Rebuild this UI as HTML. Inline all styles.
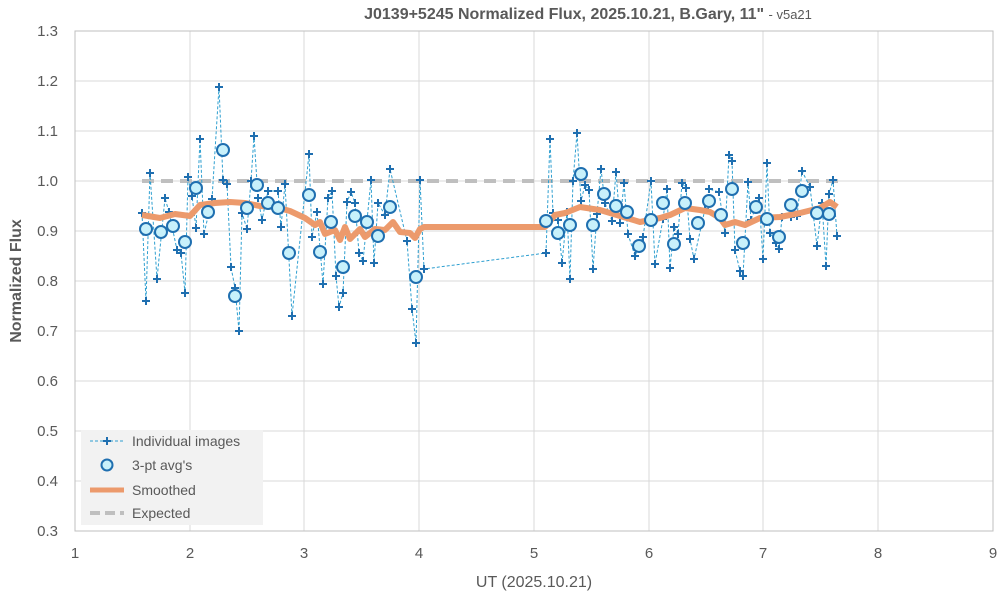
<!DOCTYPE html>
<html><head><meta charset="utf-8"><style>
body{margin:0;background:#fff;}
svg text{font-family:"Liberation Sans",sans-serif;}
</style></head><body>
<svg width="1003" height="599" viewBox="0 0 1003 599" xmlns="http://www.w3.org/2000/svg">
<rect width="1003" height="599" fill="#fff"/>
<g stroke="#d9d9d9" stroke-width="1">
<line x1="75" y1="81" x2="993" y2="81"/><line x1="75" y1="131" x2="993" y2="131"/><line x1="75" y1="181" x2="993" y2="181"/><line x1="75" y1="231" x2="993" y2="231"/><line x1="75" y1="281" x2="993" y2="281"/><line x1="75" y1="331" x2="993" y2="331"/><line x1="75" y1="381" x2="993" y2="381"/><line x1="75" y1="431" x2="993" y2="431"/><line x1="75" y1="481" x2="993" y2="481"/>
<line x1="190" y1="31" x2="190" y2="531"/><line x1="304" y1="31" x2="304" y2="531"/><line x1="419" y1="31" x2="419" y2="531"/><line x1="534" y1="31" x2="534" y2="531"/><line x1="649" y1="31" x2="649" y2="531"/><line x1="763" y1="31" x2="763" y2="531"/><line x1="878" y1="31" x2="878" y2="531"/>
</g>
<rect x="75" y="31" width="918" height="500" fill="none" stroke="#bfbfbf" stroke-width="1"/>
<g font-size="15" fill="#595959" text-anchor="end">
<text x="58" y="36">1.3</text><text x="58" y="86">1.2</text><text x="58" y="136">1.1</text><text x="58" y="186">1.0</text><text x="58" y="236">0.9</text><text x="58" y="286">0.8</text><text x="58" y="336">0.7</text><text x="58" y="386">0.6</text><text x="58" y="436">0.5</text><text x="58" y="486">0.4</text><text x="58" y="536">0.3</text>
</g>
<g font-size="15" fill="#595959" text-anchor="middle">
<text x="75" y="558">1</text><text x="190" y="558">2</text><text x="304" y="558">3</text><text x="419" y="558">4</text><text x="534" y="558">5</text><text x="649" y="558">6</text><text x="763" y="558">7</text><text x="878" y="558">8</text><text x="993" y="558">9</text>
</g>
<text x="534" y="587" font-size="16" fill="#595959" text-anchor="middle">UT (2025.10.21)</text>
<text x="21" y="281" font-size="16" font-weight="bold" fill="#595959" text-anchor="middle" transform="rotate(-90 21 281)">Normalized Flux</text>
<text x="588" y="19" font-size="16" font-weight="bold" fill="#595959" text-anchor="middle">J0139+5245 Normalized Flux, 2025.10.21, B.Gary, 11" <tspan font-size="13" font-weight="normal">- v5a21</tspan></text>
<line x1="142" y1="181" x2="838" y2="181" stroke="#bfbfbf" stroke-width="4" stroke-dasharray="12,7"/>
<polyline fill="none" stroke="#2e9fd0" stroke-width="1" stroke-dasharray="3,2" points="142,213 146,301 150,173 157,279 165,198 169,212 177,250 181,253 185,293 188,177 192,196 196,228 200,139 204,234 212,199 219,87 223,180 227,184 231,267 235,288 239,331 242,213 247,229 251,181 254,136 258,198 262,220 268,191 278,191 281,227 285,184 292,316 309,154 312,237 317,212 323,284 328,198 332,191 336,276 339,307 343,293 347,202 351,192 355,203 359,253 363,261 371,180 374,263 378,203 385,215 390,169 407,241 412,309 416,343 420,180 424,269 546,253 550,139 553,213 558,220 562,263 567,212 570,279 573,181 577,133 581,201 585,185 589,190 593,269 597,214 601,169 605,203 612,221 616,172 620,223 624,183 628,234 635,256 643,237 651,181 655,264 663,219 667,189 670,268 674,227 678,234 682,183 686,188 690,239 694,259 705,209 709,189 719,192 725,233 729,155 732,161 735,250 740,271 743,276 748,182 751,220 759,198 763,259 767,163 770,233 776,243 779,249 782,217 791,217 797,216 802,171 810,187 817,246 822,203 826,266 829,194 833,180 837,236"/>
<path fill="none" stroke="#1f6fb0" stroke-width="2" d="M138,213h8M142,209v8M142,301h8M146,297v8M146,173h8M150,169v8M153,279h8M157,275v8M161,198h8M165,194v8M165,212h8M169,208v8M173,250h8M177,246v8M177,253h8M181,249v8M181,293h8M185,289v8M184,177h8M188,173v8M188,196h8M192,192v8M192,228h8M196,224v8M196,139h8M200,135v8M200,234h8M204,230v8M208,199h8M212,195v8M215,87h8M219,83v8M219,180h8M223,176v8M223,184h8M227,180v8M227,267h8M231,263v8M231,288h8M235,284v8M235,331h8M239,327v8M238,213h8M242,209v8M243,229h8M247,225v8M247,181h8M251,177v8M250,136h8M254,132v8M254,198h8M258,194v8M258,220h8M262,216v8M264,191h8M268,187v8M274,191h8M278,187v8M277,227h8M281,223v8M281,184h8M285,180v8M288,316h8M292,312v8M305,154h8M309,150v8M308,237h8M312,233v8M313,212h8M317,208v8M319,284h8M323,280v8M324,198h8M328,194v8M328,191h8M332,187v8M332,276h8M336,272v8M335,307h8M339,303v8M339,293h8M343,289v8M343,202h8M347,198v8M347,192h8M351,188v8M351,203h8M355,199v8M355,253h8M359,249v8M359,261h8M363,257v8M367,180h8M371,176v8M370,263h8M374,259v8M374,203h8M378,199v8M381,215h8M385,211v8M386,169h8M390,165v8M403,241h8M407,237v8M408,309h8M412,305v8M412,343h8M416,339v8M416,180h8M420,176v8M420,269h8M424,265v8M542,253h8M546,249v8M546,139h8M550,135v8M549,213h8M553,209v8M554,220h8M558,216v8M558,263h8M562,259v8M563,212h8M567,208v8M566,279h8M570,275v8M569,181h8M573,177v8M573,133h8M577,129v8M577,201h8M581,197v8M581,185h8M585,181v8M585,190h8M589,186v8M589,269h8M593,265v8M593,214h8M597,210v8M597,169h8M601,165v8M601,203h8M605,199v8M608,221h8M612,217v8M612,172h8M616,168v8M616,223h8M620,219v8M620,183h8M624,179v8M624,234h8M628,230v8M631,256h8M635,252v8M639,237h8M643,233v8M647,181h8M651,177v8M651,264h8M655,260v8M659,219h8M663,215v8M663,189h8M667,185v8M666,268h8M670,264v8M670,227h8M674,223v8M674,234h8M678,230v8M678,183h8M682,179v8M682,188h8M686,184v8M686,239h8M690,235v8M690,259h8M694,255v8M701,209h8M705,205v8M705,189h8M709,185v8M715,192h8M719,188v8M721,233h8M725,229v8M725,155h8M729,151v8M728,161h8M732,157v8M731,250h8M735,246v8M736,271h8M740,267v8M739,276h8M743,272v8M744,182h8M748,178v8M747,220h8M751,216v8M755,198h8M759,194v8M759,259h8M763,255v8M763,163h8M767,159v8M766,233h8M770,229v8M772,243h8M776,239v8M775,249h8M779,245v8M778,217h8M782,213v8M787,217h8M791,213v8M793,216h8M797,212v8M798,171h8M802,167v8M806,187h8M810,183v8M813,246h8M817,242v8M818,203h8M822,199v8M822,266h8M826,262v8M825,194h8M829,190v8M829,180h8M833,176v8M833,236h8M837,232v8"/>
<polyline fill="none" stroke="#ec9a6c" stroke-width="6" stroke-linejoin="round" points="142,215 160,218 175,214 190,216 200,205 215,203 230,202 245,203 260,206 275,207 290,211 305,218 315,225 320,222 325,234 335,230 340,240 345,227 350,239 360,229 365,237 375,229 385,230 393,222 400,232 410,233 415,238 420,229 424,227 430,227 545,227 555,215 565,213 580,207 600,210 620,216 640,222 650,220 660,218 670,215 685,208 700,210 710,212 720,218 725,225 735,222 745,225 760,218 780,217 800,213 820,208 830,202 837,207"/>
<g fill="#c8f1fb" stroke="#1f6fb0" stroke-width="2">
<circle cx="146" cy="229" r="6"/><circle cx="161" cy="232" r="6"/><circle cx="173" cy="226" r="6"/><circle cx="185" cy="242" r="6"/><circle cx="196" cy="188" r="6"/><circle cx="208" cy="212" r="6"/><circle cx="223" cy="150" r="6"/><circle cx="235" cy="296" r="6"/><circle cx="247" cy="208" r="6"/><circle cx="257" cy="185" r="6"/><circle cx="268" cy="203" r="6"/><circle cx="278" cy="208" r="6"/><circle cx="289" cy="253" r="6"/><circle cx="309" cy="195" r="6"/><circle cx="320" cy="252" r="6"/><circle cx="331" cy="222" r="6"/><circle cx="343" cy="267" r="6"/><circle cx="355" cy="216" r="6"/><circle cx="367" cy="222" r="6"/><circle cx="378" cy="236" r="6"/><circle cx="390" cy="207" r="6"/><circle cx="416" cy="277" r="6"/>
<circle cx="546" cy="221" r="6"/><circle cx="558" cy="233" r="6"/><circle cx="570" cy="225" r="6"/><circle cx="581" cy="174" r="6"/><circle cx="593" cy="225" r="6"/><circle cx="604" cy="194" r="6"/><circle cx="616" cy="206" r="6"/><circle cx="627" cy="212" r="6"/><circle cx="639" cy="246" r="6"/><circle cx="651" cy="220" r="6"/><circle cx="663" cy="203" r="6"/><circle cx="674" cy="244" r="6"/><circle cx="685" cy="203" r="6"/><circle cx="698" cy="223" r="6"/><circle cx="709" cy="201" r="6"/><circle cx="721" cy="215" r="6"/><circle cx="732" cy="189" r="6"/><circle cx="743" cy="243" r="6"/><circle cx="756" cy="207" r="6"/><circle cx="767" cy="219" r="6"/><circle cx="779" cy="237" r="6"/><circle cx="791" cy="205" r="6"/><circle cx="802" cy="191" r="6"/><circle cx="817" cy="213" r="6"/><circle cx="829" cy="214" r="6"/>
</g>
<rect x="81" y="430" width="182" height="95" fill="#f2f2f2"/>
<line x1="90" y1="441" x2="124" y2="441" stroke="#2e9fd0" stroke-width="1" stroke-dasharray="3,2"/>
<path d="M103,441h8M107,437v8" stroke="#1f6fb0" stroke-width="2"/>
<circle cx="107" cy="465" r="5.5" fill="#c8f1fb" stroke="#1f6fb0" stroke-width="2"/>
<line x1="90" y1="490" x2="124" y2="490" stroke="#ec9a6c" stroke-width="5"/>
<line x1="90" y1="513" x2="124" y2="513" stroke="#bfbfbf" stroke-width="4" stroke-dasharray="10,5"/>
<g font-size="14" fill="#595959">
<text x="132" y="446">Individual images</text><text x="132" y="470">3-pt avg's</text><text x="132" y="495">Smoothed</text><text x="132" y="518">Expected</text>
</g>
</svg>
</body></html>
